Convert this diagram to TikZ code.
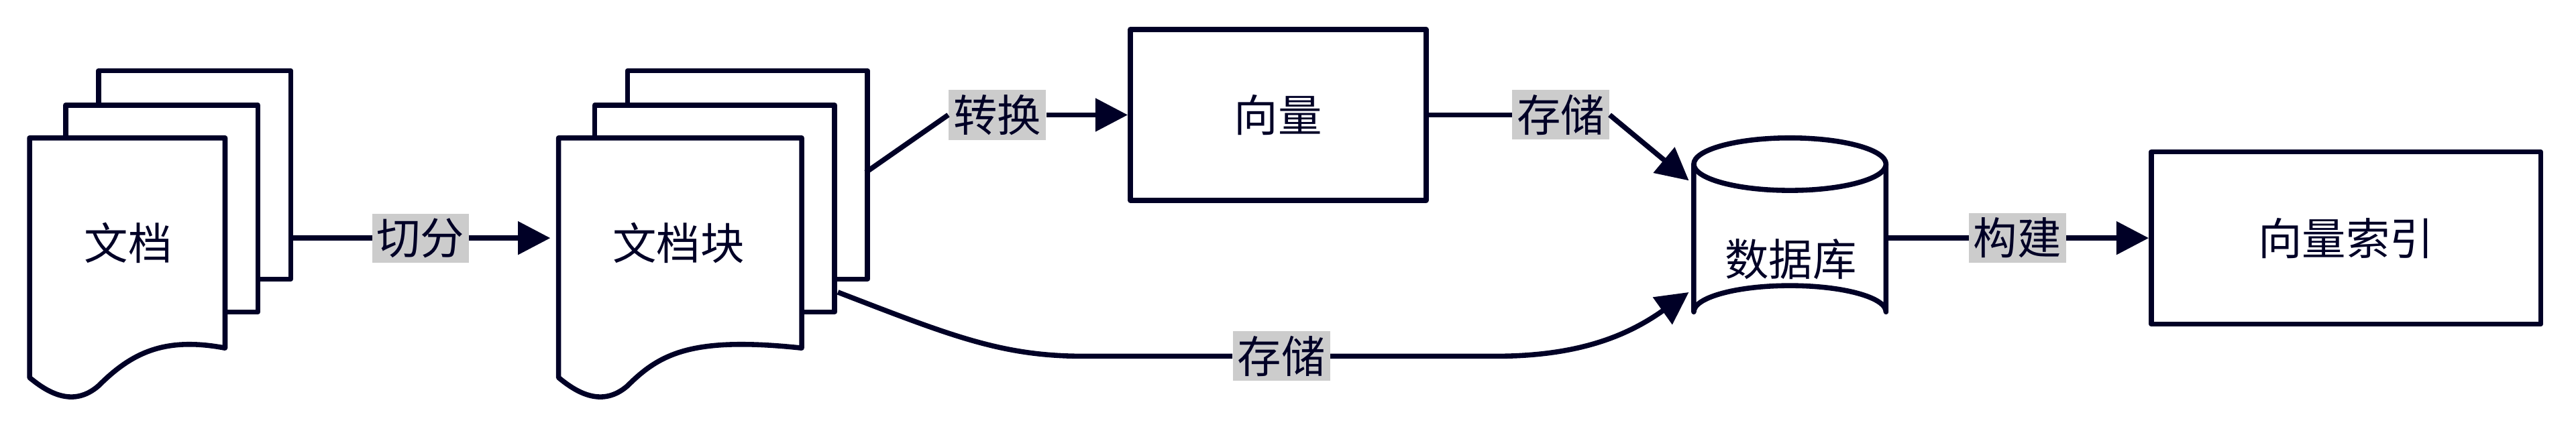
\documentclass[tikz,border=0pt]{standalone}
\usepackage{fontspec}
\newfontfamily\cjk{Noto Sans CJK SC}
\usetikzlibrary{arrows.meta,shapes.geometric}
\begin{document}
\begin{tikzpicture}[x=0.025cm,y=-0.025cm,
  ln/.style={draw=black!85!blue,line width=2.2pt,line join=round},
  arr/.style={ln,-{Triangle[length=14pt,width=14pt]}},
  txt/.style={font=\cjk\fontsize{19}{22}\selectfont,text=black!85!blue},
  lab/.style={txt,fill=black!20,inner sep=2pt}]
\useasboundingbox (0,0) rectangle (1568,262.5);
% document stack macro-like drawings
\foreach \ox in {0,322}{
  \draw[ln,fill=white] (60+\ox,43) rectangle (177+\ox+\ox*0.09,170);
  \draw[ln,fill=white] (40+\ox,64) rectangle (157+\ox+\ox*0.09,190);
  \draw[ln,fill=white] (18+\ox,84) -- (137+\ox+\ox*0.09,84) -- (137+\ox+\ox*0.09,212)
     .. controls (100+\ox,205) and (80+\ox,215) .. (60+\ox,235)
     .. controls (45+\ox,248) and (30+\ox,240) .. (18+\ox,230) -- cycle;
}
\node[txt] (doc) at (78,148) {文档};
\node[txt] (chunk) at (413,148) {文档块};
\coordinate (d1r) at (177,145);
\coordinate (d2l) at (335,145);
\coordinate (d2r) at (527,105);
\coordinate (d2b) at (510,178);
% rectangles
\node[ln,txt,minimum width=180*0.025cm,minimum height=104*0.025cm] (vec) at (778,70) {向量};
\node[ln,txt,minimum width=237*0.025cm,minimum height=105*0.025cm] (idx) at (1428,145) {向量索引};
% cylinder
\draw[ln,fill=white] (1031,100) -- (1031,190) arc[start angle=180,end angle=360,x radius=58.5,y radius=16] -- (1148,100);
\draw[ln,fill=white] (1089.5,100) ellipse[x radius=58.5,y radius=16];
\node[txt] (db) at (1090,158) {数据库};
\coordinate (dbl) at (1031,145);
\coordinate (dbr) at (1148,145);
\coordinate (dbtl) at (1028,110);
\coordinate (dbbl) at (1028,178);
% connectors
\draw[arr] (d1r) -- node[lab] {切分} (d2l);
\node[lab] (l2) at (607,70) {转换};
\draw[ln] (d2r) -- (l2.west);
\draw[arr] (l2.east) -- (vec.west);
\node[lab] (l3) at (950,70) {存储};
\draw[ln] (vec.east) -- (l3.west);
\draw[arr] (l3.east) -- (dbtl);
\node[lab] (l4) at (780,217) {存储};
\draw[ln] (d2b) .. controls (580,205) and (610,217) .. (660,217) -- (l4.west);
\draw[arr] (l4.east) -- (910,217) .. controls (960,217) and (990,205) .. (dbbl);
\draw[arr] (dbr) -- node[lab] {构建} (idx.west);
\end{tikzpicture}
\end{document}
